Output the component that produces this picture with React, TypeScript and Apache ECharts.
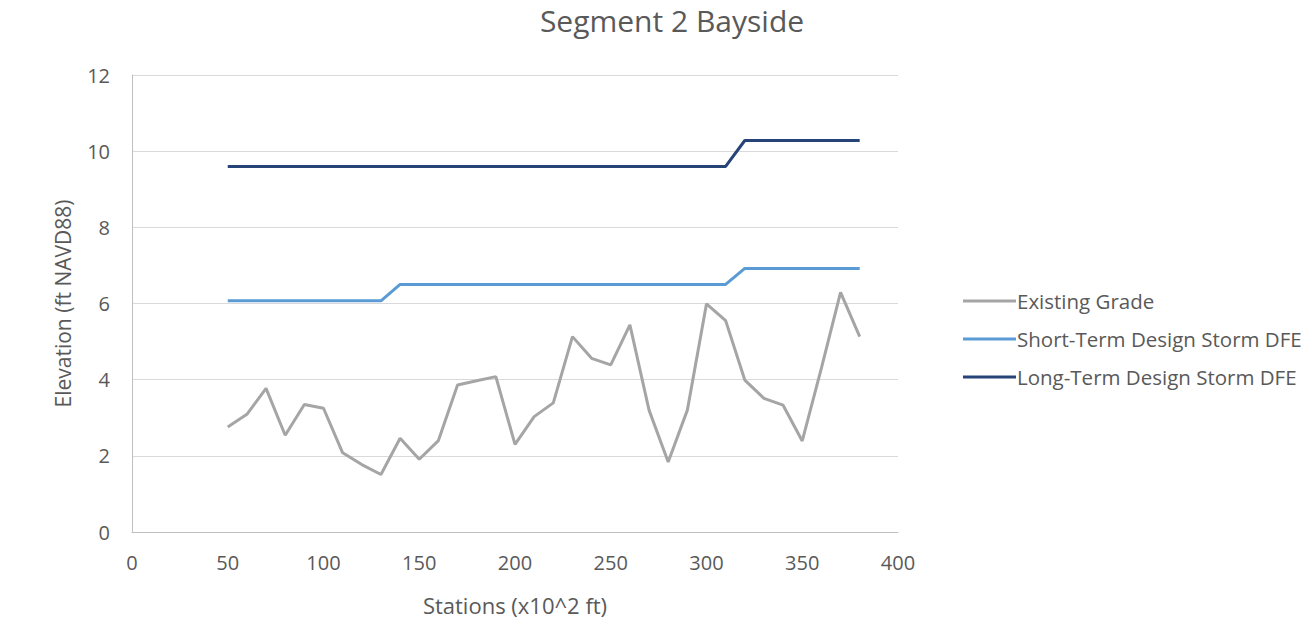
import React, { useEffect, useRef } from "react";
import * as echarts from "echarts";

const stations = [50, 60, 70, 80, 90, 100, 110, 120, 130, 140, 150, 160, 170, 180, 190, 200, 210, 220, 230, 240, 250, 260, 270, 280, 290, 300, 310, 320, 330, 340, 350, 360, 370, 380];
const existingGrade = [2.76, 3.09, 3.77, 2.54, 3.35, 3.25, 2.08, 1.77, 1.51, 2.46, 1.91, 2.4, 3.86, 3.97, 4.08, 2.3, 3.03, 3.39, 5.13, 4.56, 4.39, 5.44, 3.2, 1.84, 3.2, 5.99, 5.55, 3.99, 3.51, 3.33, 2.39, 4.3, 6.29, 5.13];
const shortTerm = [6.07, 6.07, 6.07, 6.07, 6.07, 6.07, 6.07, 6.07, 6.07, 6.5, 6.5, 6.5, 6.5, 6.5, 6.5, 6.5, 6.5, 6.5, 6.5, 6.5, 6.5, 6.5, 6.5, 6.5, 6.5, 6.5, 6.5, 6.92, 6.92, 6.92, 6.92, 6.92, 6.92, 6.92];
const longTerm = [9.6, 9.6, 9.6, 9.6, 9.6, 9.6, 9.6, 9.6, 9.6, 9.6, 9.6, 9.6, 9.6, 9.6, 9.6, 9.6, 9.6, 9.6, 9.6, 9.6, 9.6, 9.6, 9.6, 9.6, 9.6, 9.6, 9.6, 10.28, 10.28, 10.28, 10.28, 10.28, 10.28, 10.28];
const seriesNames = ["Existing Grade", "Short-Term Design Storm DFE", "Long-Term Design Storm DFE"];
const colors = ["#A5A5A5", "#5B9BD5", "#264478"];

const FONT = "'Open Sans', 'Noto Sans', sans-serif";

export default function App() {
  const ref = useRef<HTMLDivElement>(null);
  useEffect(() => {
    const chart = echarts.init(ref.current!, null, { renderer: "svg" });
    const all = [existingGrade, shortTerm, longTerm];
    chart.setOption({
      animation: false,
      backgroundColor: "#ffffff",
      title: {
        text: "Segment 2 Bayside",
        left: 672,
        textAlign: "center",
        top: 0,
        padding: 0,
        textStyle: { fontFamily: FONT, fontSize: 30, lineHeight: 40, fontWeight: "normal", color: "#595959" },
      },
      legend: {
        orient: "vertical",
        left: 958,
        top: 282,
        itemGap: 10,
        itemWidth: 53,
        itemHeight: 3,
        icon: "rect",
        data: seriesNames,
        textStyle: { fontFamily: FONT, fontSize: 20.5, lineHeight: 28, color: "#595959", padding: [0, 0, 0, -4] },
      },
      grid: { left: 132, right: 411, top: 75, bottom: 87, outerBoundsMode: "none", containLabel: false },
      xAxis: {
        type: "value",
        min: 0,
        max: 400,
        interval: 50,
        name: "Stations (x10^2 ft)",
        nameLocation: "middle",
        nameGap: 62,
        nameTextStyle: { fontFamily: FONT, fontSize: 22, color: "#595959" },
        axisLine: { show: true, lineStyle: { color: "#BFBFBF", width: 1 } },
        axisTick: { show: false },
        splitLine: { show: false },
        axisLabel: { fontFamily: FONT, fontSize: 20, color: "#595959", margin: 20 },
      },
      yAxis: {
        type: "value",
        min: 0,
        max: 12,
        interval: 2,
        name: "Elevation (ft NAVD88)",
        nameLocation: "middle",
        nameGap: 59,
        nameRotate: 90,
        nameTextStyle: { fontFamily: FONT, fontSize: 21, color: "#595959" },
        axisLine: { show: true, lineStyle: { color: "#BFBFBF", width: 1 } },
        axisTick: { show: false },
        splitLine: { show: true, lineStyle: { color: "#D9D9D9", width: 1 } },
        axisLabel: { fontFamily: FONT, fontSize: 20, color: "#595959", margin: 22 },
      },
      series: seriesNames.map((name, i) => ({
        name,
        type: "line",
        data: stations.map((s, j) => [s, all[i][j]]),
        showSymbol: false,
        symbol: "none",
        lineStyle: { color: colors[i], width: 3 },
        itemStyle: { color: colors[i] },
      })),
    });
    return () => chart.dispose();
  }, []);
  return <div ref={ref} style={{ width: 1309, height: 619, position: "absolute", left: 0, top: 0 }} />;
}
